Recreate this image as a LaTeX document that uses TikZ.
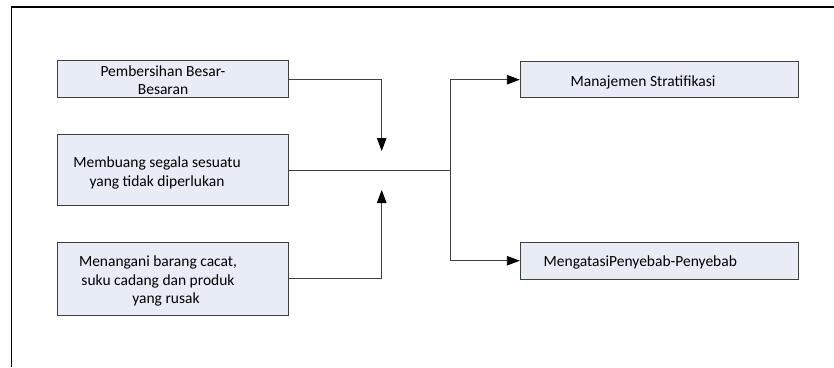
\documentclass[tikz,border=0pt]{standalone}
\usepackage{fontspec}
\setmainfont{Carlito}
\usetikzlibrary{arrows.meta}
\definecolor{boxfill}{HTML}{E7ECF7}
\definecolor{boxline}{HTML}{3F3F3F}
\definecolor{wire}{HTML}{404040}
\tikzset{
  stepbox/.style={draw=boxline, line width=1pt, fill=boxfill, rectangle, inner sep=0pt},
  label text/.style={font=\fontsize{15.5}{18.5}\selectfont, align=center, inner sep=0pt, text=black},
  wireline/.style={draw=wire, line width=0.9pt},
  arr/.style={wireline, -{Triangle[length=13pt,width=9.5pt,color=black]}},
}
\begin{document}
\begin{tikzpicture}[x=1pt,y=-1pt]
\useasboundingbox (0,0) rectangle (834,367);
% page frame
\draw[line width=1.2pt] (11.7,367) -- (11.7,7) -- (834,7);

% left column boxes
\node[stepbox, minimum width=231.3pt, minimum height=36.7pt] (b1) at (173.3,79.3) {};
\node[stepbox, minimum width=231.3pt, minimum height=71.3pt] (b2) at (173.3,170.3) {};
\node[stepbox, minimum width=231.3pt, minimum height=72.7pt] (b3) at (173.3,278.7) {};
% right column boxes
\node[stepbox, minimum width=278pt, minimum height=36pt] (b4) at (659.3,79.7) {};
\node[stepbox, minimum width=278pt, minimum height=36.7pt] (b5) at (659.3,260.7) {};

% box texts
\node[label text] (t1) at (163,80) {Pembersihan Besar-\\Besaran};
\node[label text] (t2) at (157,173) {Membuang segala sesuatu\\yang tidak diperlukan};
\node[label text] (t3) at (158,281) {Menangani barang cacat,\\suku cadang dan produk\\\hspace*{16pt}yang rusak};
\node[label text] (t4) at (643,82) {Manajemen Stratifikasi};
\node[label text] (t5) at (640.3,262) {MengatasiPenyebab-Penyebab};

% connector points
\coordinate (m1) at (381.7,151);
\coordinate (m3) at (381.7,190);
\coordinate (j) at (450.7,170.3);

% connectors
\draw[arr] (b1.east) -| (m1);
\draw[arr] (b3.east) -| (m3);
\draw[wireline] (b2.east) -- (j);
\draw[arr] (j) |- (b4.west);
\draw[arr] (j) |- (b5.west);
\end{tikzpicture}
\end{document}
